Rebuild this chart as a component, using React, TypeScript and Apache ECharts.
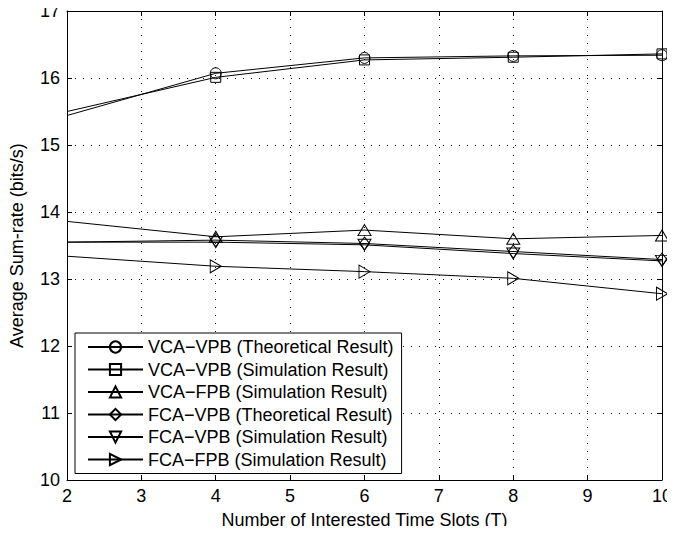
import React, { useEffect, useRef } from "react";
import * as echarts from "echarts";

const xValues = [2, 4, 6, 8, 10];
const vcaVpbTheo = [15.44, 16.07, 16.3, 16.33, 16.34];
const vcaVpbSim = [15.5, 16.01, 16.27, 16.31, 16.36];
const vcaFpbSim = [13.86, 13.63, 13.73, 13.6, 13.65];
const fcaVpbTheo = [13.55, 13.58, 13.53, 13.41, 13.29];
const fcaVpbSim = [13.55, 13.55, 13.51, 13.38, 13.27];
const fcaFpbSim = [13.34, 13.19, 13.11, 13.01, 12.78];
const seriesNames = [
  "VCA\u2212VPB (Theoretical Result)",
  "VCA\u2212VPB (Simulation Result)",
  "VCA\u2212FPB (Simulation Result)",
  "FCA\u2212VPB (Theoretical Result)",
  "FCA\u2212VPB (Simulation Result)",
  "FCA\u2212FPB (Simulation Result)",
];
const xTitle = "Number of Interested Time Slots (T)";
const yTitle = "Average Sum-rate (bits/s)";

const FONT = "'Liberation Sans', Arial, sans-serif";
const FS = 18;

export default function App() {
  const ref = useRef<HTMLDivElement>(null);
  useEffect(() => {
    if (!ref.current) return;
    const chart = echarts.init(ref.current, null, { renderer: "svg" });
    const all = [vcaVpbTheo, vcaVpbSim, vcaFpbSim, fcaVpbTheo, fcaVpbSim, fcaFpbSim];
    const symbols: [string, any, number][] = [
      ["circle", 11, 0],
      ["rect", 10, 0],
      ["triangle", [13, 11], 0],
      ["diamond", [10, 13], 0],
      ["triangle", [13, 11], 180],
      ["triangle", [13, 11], -90],
    ];
    const series = all.map((vals, i) => ({
      name: seriesNames[i],
      type: "line",
      data: vals.map((v, j) =>
        j === 0 ? { value: [xValues[j], v], symbol: "none" } : { value: [xValues[j], v] }
      ),
      symbol: symbols[i][0],
      symbolSize: symbols[i][1],
      symbolRotate: symbols[i][2],
      showAllSymbol: true,
      color: "#000",
      lineStyle: { color: "#000", width: 1 },
      itemStyle: { color: "transparent", borderColor: "#000", borderWidth: 1 },
      emphasis: { disabled: true },
      silent: true,
      z: 3,
    }));
    const dotted = { show: true, lineStyle: { color: "#000", width: 1, type: [1, 7] } };
    const axisLine = { show: true, onZero: false, lineStyle: { color: "#000", width: 1 } };
    const tick = { show: true, inside: true, length: 5, lineStyle: { color: "#000" } };
    chart.setOption({
      animation: false,
      backgroundColor: "#fff",
      textStyle: { fontFamily: FONT },
      grid: { left: 67, right: 13, top: 11, bottom: 52 },
      legend: {
        orient: "vertical",
        left: 75,
        top: 333,
        itemWidth: 55,
        itemHeight: 14,
        itemGap: 4.5,
        padding: [5, 8, 5, 12],
        backgroundColor: "#fff",
        borderColor: "#000",
        borderWidth: 1,
        borderRadius: 0,
        textStyle: { fontFamily: FONT, fontSize: FS, lineHeight: 18, color: "#000" },
        data: seriesNames,
        selectedMode: false,
        z: 10,
      },
      xAxis: [
        {
          type: "value",
          min: 2,
          max: 10,
          interval: 1,
          name: xTitle,
          nameLocation: "middle",
          nameGap: 31,
          nameTextStyle: { fontFamily: FONT, fontSize: FS, color: "#000" },
          axisLine,
          axisTick: tick,
          axisLabel: { fontFamily: FONT, fontSize: FS, color: "#000", margin: 7 },
          splitLine: dotted,
        },
        {
          type: "value",
          position: "top",
          min: 2,
          max: 10,
          interval: 1,
          axisLine,
          axisTick: tick,
          axisLabel: { show: false },
          splitLine: { show: false },
        },
      ],
      yAxis: [
        {
          type: "value",
          min: 10,
          max: 17,
          interval: 1,
          name: yTitle,
          nameLocation: "middle",
          nameGap: 41,
          nameTextStyle: { fontFamily: FONT, fontSize: FS, color: "#000" },
          axisLine,
          axisTick: tick,
          axisLabel: { fontFamily: FONT, fontSize: FS, color: "#000", margin: 7 },
          splitLine: dotted,
        },
        {
          type: "value",
          position: "right",
          min: 10,
          max: 17,
          interval: 1,
          axisLine,
          axisTick: tick,
          axisLabel: { show: false },
          splitLine: { show: false },
        },
      ],
      series,
    });
    return () => chart.dispose();
  }, []);
  return <div ref={ref} style={{ width: 675, height: 534, margin: -8 }} />;
}
